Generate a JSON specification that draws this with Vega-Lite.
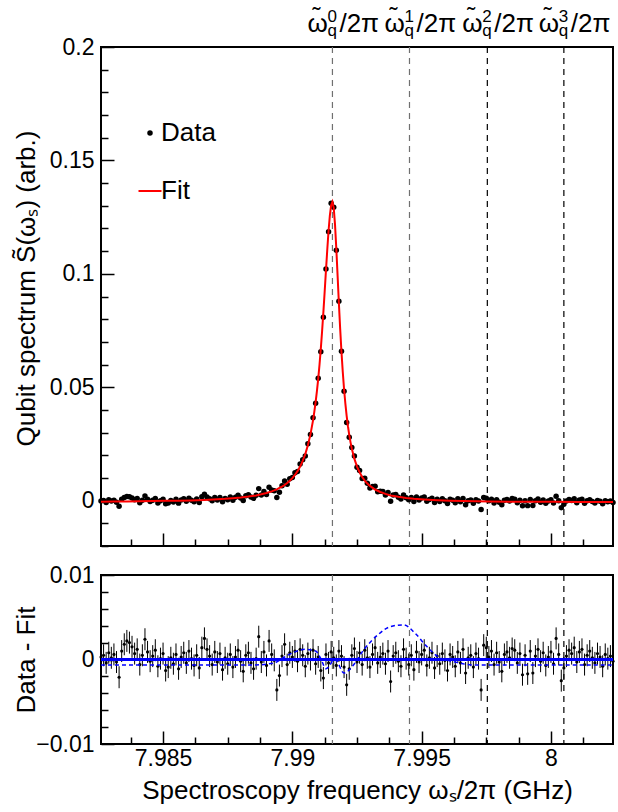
{
  "$schema": "https://vega.github.io/schema/vega-lite/v6.json",
  "background": "white",
  "padding": {"left": 12, "top": 4, "right": 5, "bottom": 5},
  "config": {
    "view": {"stroke": "black", "strokeWidth": 2},
    "font": "Liberation Sans",
    "axis": {"domain": false, "grid": false, "labelFont": "Liberation Sans", "labelFontSize": 23, "labelColor": "black", "titleFont": "Liberation Sans", "titleFontSize": 26, "titleFontWeight": "normal", "titleColor": "black", "tickColor": "black", "tickWidth": 1.5, "labelFlush": false, "labelOverlap": false, "labelBound": false, "format": "~g"},
    "legend": {"labelFont": "Liberation Sans", "labelFontSize": 26, "labelColor": "black"}
  },
  "datasets": {
    "lines": [{"f": 7.99155, "n": "0"}, {"f": 7.99453, "n": "1"}, {"f": 7.99754, "n": "2"}, {"f": 8.0005, "n": "3"}],
    "zero": [{"f": 7.9826, "r": 0}, {"f": 8.0024, "r": 0}],
    "alt": [
      {"f": 7.9826, "r": -0.00065}, {"f": 7.9885, "r": -0.00065}, {"f": 7.9893, "r": -0.0004}, {"f": 7.9897, "r": 0.0003}, {"f": 7.9901, "r": 0.0009}, {"f": 7.9905, "r": 0.0012}, {"f": 7.9909, "r": 0.001}, {"f": 7.9911, "r": 0.0001}, {"f": 7.9913, "r": -0.0011}, {"f": 7.99165, "r": 0.0}, {"f": 7.992, "r": -0.0016}, {"f": 7.99235, "r": -0.0007}, {"f": 7.99275, "r": 0.0011}, {"f": 7.9933, "r": 0.0029}, {"f": 7.9938, "r": 0.0039}, {"f": 7.9943, "r": 0.0041}, {"f": 7.99475, "r": 0.0031}, {"f": 7.99515, "r": 0.0017}, {"f": 7.99565, "r": 0.0003}, {"f": 7.9963, "r": -0.0003}, {"f": 7.997, "r": -0.00065}, {"f": 8.0024, "r": -0.00065}
    ],
    "fit": [
      {"f": 7.9826, "s": -0.0005}, {"f": 7.9831, "s": -0.0004}, {"f": 7.9836, "s": -0.0004}, {"f": 7.9841, "s": -0.0003}, {"f": 7.9846, "s": -0.0002}, {"f": 7.9851, "s": -0.0001}, {"f": 7.9856, "s": 0.0}, {"f": 7.9861, "s": 0.0001}, {"f": 7.9866, "s": 0.0003}, {"f": 7.9871, "s": 0.0006}, {"f": 7.9874, "s": 0.0008}, {"f": 7.9877, "s": 0.0011}, {"f": 7.988, "s": 0.0014}, {"f": 7.9883, "s": 0.0018}, {"f": 7.9886, "s": 0.0023}, {"f": 7.9888, "s": 0.0028}, {"f": 7.989, "s": 0.0034}, {"f": 7.9892, "s": 0.0041}, {"f": 7.9893, "s": 0.0045}, {"f": 7.9894, "s": 0.005}, {"f": 7.9895, "s": 0.0056}, {"f": 7.9896, "s": 0.0062}, {"f": 7.9897, "s": 0.0069}, {"f": 7.9898, "s": 0.0078}, {"f": 7.9899, "s": 0.0088}, {"f": 7.99, "s": 0.0099}, {"f": 7.9901, "s": 0.0113}, {"f": 7.9902, "s": 0.013}, {"f": 7.9903, "s": 0.015}, {"f": 7.9904, "s": 0.0175}, {"f": 7.9905, "s": 0.0205}, {"f": 7.9906, "s": 0.0244}, {"f": 7.9907, "s": 0.0292}, {"f": 7.9908, "s": 0.0354}, {"f": 7.99085, "s": 0.0392}, {"f": 7.9909, "s": 0.0434}, {"f": 7.99095, "s": 0.0483}, {"f": 7.991, "s": 0.0537}, {"f": 7.99105, "s": 0.0599}, {"f": 7.9911, "s": 0.0669}, {"f": 7.99115, "s": 0.0747}, {"f": 7.9912, "s": 0.0831}, {"f": 7.99125, "s": 0.0922}, {"f": 7.9913, "s": 0.1015}, {"f": 7.99135, "s": 0.1106}, {"f": 7.9914, "s": 0.119}, {"f": 7.99145, "s": 0.1257}, {"f": 7.9915, "s": 0.1302}, {"f": 7.99155, "s": 0.1317}, {"f": 7.9916, "s": 0.1291}, {"f": 7.99165, "s": 0.1217}, {"f": 7.9917, "s": 0.1111}, {"f": 7.99175, "s": 0.0991}, {"f": 7.9918, "s": 0.0869}, {"f": 7.99185, "s": 0.0756}, {"f": 7.9919, "s": 0.0655}, {"f": 7.99195, "s": 0.0567}, {"f": 7.992, "s": 0.0491}, {"f": 7.99205, "s": 0.0428}, {"f": 7.9921, "s": 0.0374}, {"f": 7.99215, "s": 0.0328}, {"f": 7.9922, "s": 0.029}, {"f": 7.99225, "s": 0.0257}, {"f": 7.9923, "s": 0.0229}, {"f": 7.9924, "s": 0.0184}, {"f": 7.9925, "s": 0.015}, {"f": 7.9926, "s": 0.0125}, {"f": 7.9927, "s": 0.0104}, {"f": 7.9928, "s": 0.0088}, {"f": 7.9929, "s": 0.0075}, {"f": 7.993, "s": 0.0065}, {"f": 7.9932, "s": 0.0049}, {"f": 7.9934, "s": 0.0038}, {"f": 7.9936, "s": 0.003}, {"f": 7.9938, "s": 0.0023}, {"f": 7.9941, "s": 0.0017}, {"f": 7.9944, "s": 0.0012}, {"f": 7.9947, "s": 0.0008}, {"f": 7.9951, "s": 0.0005}, {"f": 7.9956, "s": 0.0002}, {"f": 7.9961, "s": 0.0}, {"f": 7.9966, "s": -0.0002}, {"f": 7.9976, "s": -0.0004}, {"f": 7.9986, "s": -0.0005}, {"f": 8.0001, "s": -0.0005}, {"f": 8.0011, "s": -0.0006}, {"f": 8.0024, "s": -0.0006}
    ],
    "meas": [
      {"f": 7.9826, "s": -0.0002, "r": 0.0003, "e": 0.0013}, {"f": 7.9827, "s": 0.0001, "r": 0.0005, "e": 0.0013}, {"f": 7.9828, "s": -0.0008, "r": -0.0004, "e": 0.0013}, {"f": 7.9829, "s": 0.0004, "r": 0.0008, "e": 0.0013}, {"f": 7.983, "s": -0.0002, "r": 0.0002, "e": 0.0013}, {"f": 7.9831, "s": 0.0002, "r": 0.0006, "e": 0.0013}, {"f": 7.9832, "s": -0.0007, "r": -0.0003, "e": 0.0013}, {"f": 7.9833, "s": -0.0025, "r": -0.0021, "e": 0.0013}, {"f": 7.9834, "s": 0.0006, "r": 0.001, "e": 0.0013}, {"f": 7.9835, "s": 0.0014, "r": 0.0018, "e": 0.0013},
      {"f": 7.9836, "s": 0.0018, "r": 0.0022, "e": 0.0013}, {"f": 7.9837, "s": 0.0017, "r": 0.002, "e": 0.0013}, {"f": 7.9838, "s": 0.0012, "r": 0.0015, "e": 0.0013}, {"f": 7.9839, "s": 0.0004, "r": 0.0007, "e": 0.0013}, {"f": 7.984, "s": 0.0009, "r": 0.0012, "e": 0.0013}, {"f": 7.9841, "s": -0.0009, "r": -0.0006, "e": 0.0013}, {"f": 7.9842, "s": 0.0002, "r": 0.0005, "e": 0.0013}, {"f": 7.9843, "s": 0.0021, "r": 0.0024, "e": 0.0013}, {"f": 7.9844, "s": 0.0006, "r": 0.0009, "e": 0.0013}, {"f": 7.9845, "s": -0.0004, "r": -0.0002, "e": 0.0013},
      {"f": 7.9846, "s": 0.0002, "r": 0.0004, "e": 0.0013}, {"f": 7.9847, "s": 0.0009, "r": 0.0011, "e": 0.0013}, {"f": 7.9848, "s": -0.001, "r": -0.0008, "e": 0.0013}, {"f": 7.9849, "s": -0.0001, "r": 0.0001, "e": 0.0013}, {"f": 7.985, "s": 0.0006, "r": 0.0007, "e": 0.0013}, {"f": 7.9851, "s": -0.0014, "r": -0.0013, "e": 0.0013}, {"f": 7.9852, "s": -0.001, "r": -0.0009, "e": 0.0013}, {"f": 7.9853, "s": 0.0001, "r": 0.0002, "e": 0.0013}, {"f": 7.9854, "s": -0.0006, "r": -0.0005, "e": 0.0013}, {"f": 7.9855, "s": 0.0006, "r": 0.0006, "e": 0.0013},
      {"f": 7.9856, "s": -0.0011, "r": -0.0011, "e": 0.0013}, {"f": 7.9857, "s": 0.0003, "r": 0.0003, "e": 0.0013}, {"f": 7.9858, "s": 0.0008, "r": 0.0008, "e": 0.0013}, {"f": 7.9859, "s": -0.0003, "r": -0.0004, "e": 0.0013}, {"f": 7.986, "s": 0.0011, "r": 0.001, "e": 0.0013}, {"f": 7.9861, "s": 0.0002, "r": 0.0001, "e": 0.0013}, {"f": 7.9862, "s": -0.0005, "r": -0.0007, "e": 0.0013}, {"f": 7.9863, "s": 0.0007, "r": 0.0005, "e": 0.0013}, {"f": 7.9864, "s": -0.0008, "r": -0.001, "e": 0.0013}, {"f": 7.9865, "s": 0.0017, "r": 0.0014, "e": 0.0013},
      {"f": 7.9866, "s": 0.0028, "r": 0.0025, "e": 0.0013}, {"f": 7.9867, "s": 0.0016, "r": 0.0012, "e": 0.0013}, {"f": 7.9868, "s": 0.0008, "r": 0.0004, "e": 0.0013}, {"f": 7.9869, "s": -0.0001, "r": -0.0006, "e": 0.0013}, {"f": 7.987, "s": 0.0014, "r": 0.0009, "e": 0.0013}, {"f": 7.9871, "s": 0.0003, "r": -0.0003, "e": 0.0013}, {"f": 7.9872, "s": 0.0014, "r": 0.0007, "e": 0.0013}, {"f": 7.9873, "s": -0.0005, "r": -0.0012, "e": 0.0013}, {"f": 7.9874, "s": 0.001, "r": 0.0002, "e": 0.0013}, {"f": 7.9875, "s": 0.0004, "r": -0.0005, "e": 0.0013},
      {"f": 7.9876, "s": 0.0016, "r": 0.0006, "e": 0.0013}, {"f": 7.9877, "s": 0.0002, "r": -0.0009, "e": 0.0013}, {"f": 7.9878, "s": 0.0015, "r": 0.0003, "e": 0.0013}, {"f": 7.9879, "s": 0.0024, "r": 0.0011, "e": 0.0013}, {"f": 7.988, "s": 0.0012, "r": -0.0002, "e": 0.0013}, {"f": 7.9881, "s": 0.0001, "r": -0.0014, "e": 0.0013}, {"f": 7.9882, "s": 0.0022, "r": 0.0005, "e": 0.0013}, {"f": 7.9883, "s": 0.0026, "r": 0.0008, "e": 0.0013}, {"f": 7.9884, "s": 0.0016, "r": -0.0004, "e": 0.0013}, {"f": 7.9885, "s": 0.001, "r": -0.0011, "e": 0.0013},
      {"f": 7.9886, "s": 0.0024, "r": 0.0001, "e": 0.0013}, {"f": 7.9887, "s": 0.0053, "r": 0.0027, "e": 0.0013}, {"f": 7.9888, "s": 0.0025, "r": -0.0003, "e": 0.0013}, {"f": 7.9889, "s": 0.004, "r": 0.0009, "e": 0.0013}, {"f": 7.989, "s": 0.0027, "r": -0.0007, "e": 0.0013}, {"f": 7.9891, "s": 0.0059, "r": 0.0022, "e": 0.0013}, {"f": 7.9892, "s": 0.0047, "r": 0.0006, "e": 0.0013}, {"f": 7.9893, "s": 0.0044, "r": -0.0001, "e": 0.0013}, {"f": 7.9894, "s": 0.0014, "r": -0.0036, "e": 0.0013}, {"f": 7.9895, "s": 0.0037, "r": -0.0019, "e": 0.0013},
      {"f": 7.9896, "s": 0.0066, "r": 0.0004, "e": 0.0013}, {"f": 7.9897, "s": 0.0087, "r": 0.0018, "e": 0.0013}, {"f": 7.9898, "s": 0.0072, "r": -0.0006, "e": 0.0013}, {"f": 7.9899, "s": 0.0096, "r": 0.0008, "e": 0.0013}, {"f": 7.99, "s": 0.0102, "r": 0.0003, "e": 0.0013}, {"f": 7.9901, "s": 0.0123, "r": 0.001, "e": 0.0013}, {"f": 7.9902, "s": 0.0128, "r": -0.0002, "e": 0.0013}, {"f": 7.9903, "s": 0.0162, "r": 0.0012, "e": 0.0013}, {"f": 7.9904, "s": 0.018, "r": 0.0005, "e": 0.0013}, {"f": 7.9905, "s": 0.0197, "r": -0.0008, "e": 0.0013},
      {"f": 7.9906, "s": 0.0251, "r": 0.0007, "e": 0.0013}, {"f": 7.9907, "s": 0.0292, "r": 0.0, "e": 0.0013}, {"f": 7.9908, "s": 0.0365, "r": 0.0011, "e": 0.0013}, {"f": 7.9909, "s": 0.0429, "r": -0.0005, "e": 0.0013}, {"f": 7.991, "s": 0.054, "r": 0.0003, "e": 0.0013}, {"f": 7.9911, "s": 0.0656, "r": -0.0013, "e": 0.0013}, {"f": 7.9912, "s": 0.0809, "r": -0.0022, "e": 0.0013}, {"f": 7.9913, "s": 0.1021, "r": 0.0006, "e": 0.0013}, {"f": 7.9914, "s": 0.1186, "r": -0.0004, "e": 0.0013}, {"f": 7.9915, "s": 0.1311, "r": 0.0009, "e": 0.0013},
      {"f": 7.9916, "s": 0.1293, "r": 0.0002, "e": 0.0013}, {"f": 7.9917, "s": 0.1104, "r": -0.0007, "e": 0.0013}, {"f": 7.9918, "s": 0.0879, "r": 0.001, "e": 0.0013}, {"f": 7.9919, "s": 0.0659, "r": 0.0004, "e": 0.0013}, {"f": 7.992, "s": 0.0482, "r": -0.0009, "e": 0.0013}, {"f": 7.9921, "s": 0.0344, "r": -0.003, "e": 0.0013}, {"f": 7.9922, "s": 0.0279, "r": -0.0011, "e": 0.0013}, {"f": 7.9923, "s": 0.0234, "r": 0.0005, "e": 0.0013}, {"f": 7.9924, "s": 0.0197, "r": 0.0013, "e": 0.0013}, {"f": 7.9925, "s": 0.0147, "r": -0.0003, "e": 0.0013},
      {"f": 7.9926, "s": 0.0133, "r": 0.0008, "e": 0.0013}, {"f": 7.9927, "s": 0.0098, "r": -0.0006, "e": 0.0013}, {"f": 7.9928, "s": 0.0099, "r": 0.0011, "e": 0.0013}, {"f": 7.9929, "s": 0.0077, "r": 0.0002, "e": 0.0013}, {"f": 7.993, "s": 0.0056, "r": -0.0009, "e": 0.0013}, {"f": 7.9931, "s": 0.0062, "r": 0.0006, "e": 0.0013}, {"f": 7.9932, "s": 0.0063, "r": 0.0014, "e": 0.0013}, {"f": 7.9933, "s": 0.0039, "r": -0.0004, "e": 0.0013}, {"f": 7.9934, "s": 0.0041, "r": 0.0003, "e": 0.0013}, {"f": 7.9935, "s": 0.004, "r": 0.0007, "e": 0.0013},
      {"f": 7.9936, "s": 0.0025, "r": -0.0005, "e": 0.0013}, {"f": 7.9937, "s": 0.0036, "r": 0.001, "e": 0.0013}, {"f": 7.9938, "s": -0.0003, "r": -0.0026, "e": 0.0013}, {"f": 7.9939, "s": 0.0025, "r": 0.0004, "e": 0.0013}, {"f": 7.994, "s": 0.0027, "r": 0.0008, "e": 0.0013}, {"f": 7.9941, "s": 0.0015, "r": -0.0002, "e": 0.0013}, {"f": 7.9942, "s": 0.0007, "r": -0.0008, "e": 0.0013}, {"f": 7.9943, "s": 0.0025, "r": 0.0012, "e": 0.0013}, {"f": 7.9944, "s": 0.0013, "r": 0.0001, "e": 0.0013}, {"f": 7.9945, "s": 0.0004, "r": -0.0006, "e": 0.0013},
      {"f": 7.9946, "s": 0.0014, "r": 0.0005, "e": 0.0013}, {"f": 7.9947, "s": -0.0004, "r": -0.0012, "e": 0.0013}, {"f": 7.9948, "s": 0.0016, "r": 0.0009, "e": 0.0013}, {"f": 7.9949, "s": 0.0003, "r": -0.0003, "e": 0.0013}, {"f": 7.995, "s": 0.0012, "r": 0.0006, "e": 0.0013}, {"f": 7.9951, "s": 0.0016, "r": 0.0011, "e": 0.0013}, {"f": 7.9952, "s": -0.0003, "r": -0.0007, "e": 0.0013}, {"f": 7.9953, "s": 0.0005, "r": 0.0002, "e": 0.0013}, {"f": 7.9954, "s": 0.0011, "r": 0.0008, "e": 0.0013}, {"f": 7.9955, "s": -0.0008, "r": -0.001, "e": 0.0013},
      {"f": 7.9956, "s": 0.0006, "r": 0.0004, "e": 0.0013}, {"f": 7.9957, "s": -0.0004, "r": -0.0005, "e": 0.0013}, {"f": 7.9958, "s": 0.0008, "r": 0.0007, "e": 0.0013}, {"f": 7.9959, "s": 0.0, "r": -0.0001, "e": 0.0013}, {"f": 7.996, "s": -0.0013, "r": -0.0013, "e": 0.0013}, {"f": 7.9961, "s": 0.0006, "r": 0.0006, "e": 0.0013}, {"f": 7.9962, "s": 0.0002, "r": 0.0003, "e": 0.0013}, {"f": 7.9963, "s": -0.0009, "r": -0.0008, "e": 0.0013}, {"f": 7.9964, "s": 0.0008, "r": 0.0009, "e": 0.0013}, {"f": 7.9965, "s": -0.0005, "r": -0.0004, "e": 0.0013},
      {"f": 7.9966, "s": 0.001, "r": 0.0012, "e": 0.0013}, {"f": 7.9967, "s": -0.0018, "r": -0.0016, "e": 0.0013}, {"f": 7.9968, "s": 0.0, "r": 0.0002, "e": 0.0013}, {"f": 7.9969, "s": 0.0003, "r": 0.0005, "e": 0.0013}, {"f": 7.997, "s": -0.0012, "r": -0.0009, "e": 0.0013}, {"f": 7.9971, "s": 0.0004, "r": 0.0007, "e": 0.0013}, {"f": 7.9972, "s": -0.0002, "r": 0.0001, "e": 0.0013}, {"f": 7.9973, "s": -0.0039, "r": -0.0036, "e": 0.0013}, {"f": 7.9974, "s": 0.0014, "r": 0.0017, "e": 0.0013}, {"f": 7.9975, "s": 0.0011, "r": 0.0014, "e": 0.0013},
      {"f": 7.9976, "s": -0.0001, "r": 0.0003, "e": 0.0013}, {"f": 7.9977, "s": 0.0006, "r": 0.001, "e": 0.0013}, {"f": 7.9978, "s": -0.001, "r": -0.0006, "e": 0.0013}, {"f": 7.9979, "s": 0.0004, "r": 0.0008, "e": 0.0013}, {"f": 7.998, "s": -0.0007, "r": -0.0003, "e": 0.0013}, {"f": 7.9981, "s": -0.0018, "r": -0.0014, "e": 0.0013}, {"f": 7.9982, "s": 0.0002, "r": 0.0006, "e": 0.0013}, {"f": 7.9983, "s": 0.0005, "r": 0.0009, "e": 0.0013}, {"f": 7.9984, "s": -0.0002, "r": 0.0002, "e": 0.0013}, {"f": 7.9985, "s": 0.0009, "r": 0.0013, "e": 0.0013},
      {"f": 7.9986, "s": 0.0006, "r": 0.0011, "e": 0.0013}, {"f": 7.9987, "s": -0.0009, "r": -0.0004, "e": 0.0013}, {"f": 7.9988, "s": 0.0002, "r": 0.0007, "e": 0.0013}, {"f": 7.9989, "s": -0.0023, "r": -0.0018, "e": 0.0013}, {"f": 7.999, "s": 0.0, "r": 0.0005, "e": 0.0013}, {"f": 7.9991, "s": -0.0022, "r": -0.0017, "e": 0.0013}, {"f": 7.9992, "s": 0.0005, "r": 0.001, "e": 0.0013}, {"f": 7.9993, "s": -0.0021, "r": -0.0016, "e": 0.0013}, {"f": 7.9994, "s": -0.0001, "r": 0.0004, "e": 0.0013}, {"f": 7.9995, "s": 0.0007, "r": 0.0012, "e": 0.0013},
      {"f": 7.9996, "s": -0.0007, "r": -0.0002, "e": 0.0013}, {"f": 7.9997, "s": 0.0003, "r": 0.0008, "e": 0.0013}, {"f": 7.9998, "s": -0.0012, "r": -0.0007, "e": 0.0013}, {"f": 7.9999, "s": -0.0002, "r": 0.0003, "e": 0.0013}, {"f": 8.0, "s": 0.0004, "r": 0.0009, "e": 0.0013}, {"f": 8.0001, "s": -0.001, "r": -0.0005, "e": 0.0013}, {"f": 8.0002, "s": 0.0019, "r": 0.0025, "e": 0.0013}, {"f": 8.0003, "s": 0.0, "r": 0.0006, "e": 0.0013}, {"f": 8.0004, "s": -0.0031, "r": -0.0025, "e": 0.0013}, {"f": 8.0005, "s": -0.0016, "r": -0.001, "e": 0.0013},
      {"f": 8.0006, "s": -0.0002, "r": 0.0004, "e": 0.0013}, {"f": 8.0007, "s": 0.0005, "r": 0.0011, "e": 0.0013}, {"f": 8.0008, "s": 0.0001, "r": 0.0007, "e": 0.0013}, {"f": 8.0009, "s": 0.0008, "r": 0.0014, "e": 0.0013}, {"f": 8.001, "s": -0.0009, "r": -0.0003, "e": 0.0013}, {"f": 8.0011, "s": 0.0003, "r": 0.0009, "e": 0.0013}, {"f": 8.0012, "s": 0.0006, "r": 0.0012, "e": 0.0013}, {"f": 8.0013, "s": -0.0012, "r": -0.0006, "e": 0.0013}, {"f": 8.0014, "s": -0.0001, "r": 0.0005, "e": 0.0013}, {"f": 8.0015, "s": 0.0004, "r": 0.001, "e": 0.0013},
      {"f": 8.0016, "s": -0.0004, "r": 0.0002, "e": 0.0013}, {"f": 8.0017, "s": -0.001, "r": -0.0004, "e": 0.0013}, {"f": 8.0018, "s": 0.0001, "r": 0.0007, "e": 0.0013}, {"f": 8.0019, "s": -0.0003, "r": 0.0003, "e": 0.0013}, {"f": 8.002, "s": -0.0014, "r": -0.0008, "e": 0.0013}, {"f": 8.0021, "s": 0.0, "r": 0.0006, "e": 0.0013}, {"f": 8.0022, "s": -0.0005, "r": 0.0001, "e": 0.0013}, {"f": 8.0023, "s": -0.0002, "r": 0.0004, "e": 0.0013}, {"f": 8.0024, "s": -0.0008, "r": -0.0002, "e": 0.0013}
    ]
  },
  "spacing": 15,
  "vconcat": [
    {
      "width": 512,
      "height": 499,
      "encoding": {
        "x": {"field": "f", "type": "quantitative", "scale": {"domain": [7.9826, 8.0024], "nice": false, "zero": false},
          "axis": {"title": null, "labels": false, "labelOverlap": false, "values": [7.98375, 7.985, 7.98625, 7.9875, 7.98875, 7.99, 7.99125, 7.9925, 7.99375, 7.995, 7.99625, 7.9975, 7.99875, 8, 8.00125],
            "tickSize": {"condition": {"test": "abs(datum.value*200-round(datum.value*200))<1e-6", "value": -13}, "value": -7}}}
      },
      "layer": [
        {"data": {"name": "lines"}, "mark": {"type": "rule", "strokeDash": [6, 5], "strokeWidth": 1.2},
          "encoding": {"color": {"condition": {"test": "datum.n == '0' || datum.n == '1'", "value": "#707070"}, "value": "black"}}},
        {"data": {"name": "meas"}, "mark": {"type": "point", "filled": true, "opacity": 1},
          "encoding": {
            "y": {"field": "s", "type": "quantitative", "scale": {"domain": [-0.02, 0.2], "nice": false, "zero": false},
              "axis": {"title": "Qubit spectrum S\u0303(\u03c9\u209b) (arb.)", "labelOverlap": false, "values": [-0.02, -0.01, 0, 0.01, 0.02, 0.03, 0.04, 0.05, 0.06, 0.07, 0.08, 0.09, 0.1, 0.11, 0.12, 0.13, 0.14, 0.15, 0.16, 0.17, 0.18, 0.19, 0.2],
                "labelExpr": "abs(datum.value*20-round(datum.value*20))<1e-6 ? datum.label : ''",
                "labelFontSize": {"condition": {"test": "abs(datum.value*20-round(datum.value*20))<1e-6", "value": 23}, "value": 0},
                "tickSize": {"condition": {"test": "abs(datum.value*20-round(datum.value*20))<1e-6", "value": -13}, "value": -7},
                "labelPadding": 20, "titleX": -62, "titleY": 241, "titleAlign": "center", "titleBaseline": "bottom"}},
            "fill": {"datum": "Data", "scale": {"domain": ["Data", "Fit"], "range": ["black", "red"]}, "legend": {"title": null, "orient": "none", "legendX": 36, "legendY": 73, "rowPadding": 32, "labelOffset": -2, "padding": 0, "symbolStrokeWidth": 2}},
            "stroke": {"datum": "Data", "scale": {"domain": ["Data", "Fit"], "range": ["transparent", "red"]}, "legend": {"title": null, "orient": "none", "legendX": 36, "legendY": 73, "rowPadding": 32, "labelOffset": -2, "padding": 0, "symbolStrokeWidth": 2}},
            "shape": {"datum": "Data", "scale": {"domain": ["Data", "Fit"], "range": ["circle", "stroke"]}, "legend": {"title": null, "orient": "none", "legendX": 36, "legendY": 73, "rowPadding": 32, "labelOffset": -2, "padding": 0, "symbolStrokeWidth": 2}},
            "size": {"datum": "Data", "scale": {"domain": ["Data", "Fit"], "range": [30, 529]}, "legend": {"title": null, "orient": "none", "legendX": 36, "legendY": 73, "rowPadding": 32, "labelOffset": -2, "padding": 0, "symbolStrokeWidth": 2}}
          }},
        {"data": {"name": "fit"}, "mark": {"type": "line", "strokeWidth": 2},
          "encoding": {
            "y": {"field": "s", "type": "quantitative", "scale": {"domain": [-0.02, 0.2], "nice": false, "zero": false},
              "axis": {"title": "Qubit spectrum S\u0303(\u03c9\u209b) (arb.)", "labelOverlap": false, "values": [-0.02, -0.01, 0, 0.01, 0.02, 0.03, 0.04, 0.05, 0.06, 0.07, 0.08, 0.09, 0.1, 0.11, 0.12, 0.13, 0.14, 0.15, 0.16, 0.17, 0.18, 0.19, 0.2],
                "labelExpr": "abs(datum.value*20-round(datum.value*20))<1e-6 ? datum.label : ''",
                "labelFontSize": {"condition": {"test": "abs(datum.value*20-round(datum.value*20))<1e-6", "value": 23}, "value": 0},
                "tickSize": {"condition": {"test": "abs(datum.value*20-round(datum.value*20))<1e-6", "value": -13}, "value": -7},
                "labelPadding": 20, "titleX": -62, "titleY": 241, "titleAlign": "center", "titleBaseline": "bottom"}},
            "stroke": {"datum": "Fit", "scale": {"domain": ["Data", "Fit"], "range": ["transparent", "red"]}, "legend": {"title": null, "orient": "none", "legendX": 36, "legendY": 73, "rowPadding": 32, "labelOffset": -2, "padding": 0, "symbolStrokeWidth": 2}}
          }},
        {"data": {"name": "lines"}, "mark": {"type": "text", "text": "\u03c9", "align": "left", "baseline": "alphabetic", "fontSize": 26, "dx": -25, "dy": -15, "color": "black"},
          "encoding": {"y": {"datum": 0.2, "type": "quantitative", "scale": {"domain": [-0.02, 0.2], "nice": false, "zero": false},
              "axis": {"title": "Qubit spectrum S\u0303(\u03c9\u209b) (arb.)", "labelOverlap": false, "values": [-0.02, -0.01, 0, 0.01, 0.02, 0.03, 0.04, 0.05, 0.06, 0.07, 0.08, 0.09, 0.1, 0.11, 0.12, 0.13, 0.14, 0.15, 0.16, 0.17, 0.18, 0.19, 0.2],
                "labelExpr": "abs(datum.value*20-round(datum.value*20))<1e-6 ? datum.label : ''",
                "labelFontSize": {"condition": {"test": "abs(datum.value*20-round(datum.value*20))<1e-6", "value": 23}, "value": 0},
                "tickSize": {"condition": {"test": "abs(datum.value*20-round(datum.value*20))<1e-6", "value": -13}, "value": -7},
                "labelPadding": 20, "titleX": -62, "titleY": 241, "titleAlign": "center", "titleBaseline": "bottom"}}}},
        {"data": {"name": "lines"}, "mark": {"type": "text", "text": "\u02dc", "align": "center", "baseline": "alphabetic", "fontSize": 24, "dx": -16, "dy": -23, "color": "black"},
          "encoding": {"y": {"datum": 0.2, "type": "quantitative", "scale": {"domain": [-0.02, 0.2], "nice": false, "zero": false},
              "axis": {"title": "Qubit spectrum S\u0303(\u03c9\u209b) (arb.)", "labelOverlap": false, "values": [-0.02, -0.01, 0, 0.01, 0.02, 0.03, 0.04, 0.05, 0.06, 0.07, 0.08, 0.09, 0.1, 0.11, 0.12, 0.13, 0.14, 0.15, 0.16, 0.17, 0.18, 0.19, 0.2],
                "labelExpr": "abs(datum.value*20-round(datum.value*20))<1e-6 ? datum.label : ''",
                "labelFontSize": {"condition": {"test": "abs(datum.value*20-round(datum.value*20))<1e-6", "value": 23}, "value": 0},
                "tickSize": {"condition": {"test": "abs(datum.value*20-round(datum.value*20))<1e-6", "value": -13}, "value": -7},
                "labelPadding": 20, "titleX": -62, "titleY": 241, "titleAlign": "center", "titleBaseline": "bottom"}}}},
        {"data": {"name": "lines"}, "mark": {"type": "text", "align": "left", "baseline": "alphabetic", "fontSize": 17, "dx": -5, "dy": -25, "color": "black"},
          "encoding": {"text": {"field": "n"}, "y": {"datum": 0.2, "type": "quantitative", "scale": {"domain": [-0.02, 0.2], "nice": false, "zero": false},
              "axis": {"title": "Qubit spectrum S\u0303(\u03c9\u209b) (arb.)", "labelOverlap": false, "values": [-0.02, -0.01, 0, 0.01, 0.02, 0.03, 0.04, 0.05, 0.06, 0.07, 0.08, 0.09, 0.1, 0.11, 0.12, 0.13, 0.14, 0.15, 0.16, 0.17, 0.18, 0.19, 0.2],
                "labelExpr": "abs(datum.value*20-round(datum.value*20))<1e-6 ? datum.label : ''",
                "labelFontSize": {"condition": {"test": "abs(datum.value*20-round(datum.value*20))<1e-6", "value": 23}, "value": 0},
                "tickSize": {"condition": {"test": "abs(datum.value*20-round(datum.value*20))<1e-6", "value": -13}, "value": -7},
                "labelPadding": 20, "titleX": -62, "titleY": 241, "titleAlign": "center", "titleBaseline": "bottom"}}}},
        {"data": {"name": "lines"}, "mark": {"type": "text", "text": "q", "align": "left", "baseline": "alphabetic", "fontSize": 17, "dx": -5, "dy": -11, "color": "black"},
          "encoding": {"y": {"datum": 0.2, "type": "quantitative", "scale": {"domain": [-0.02, 0.2], "nice": false, "zero": false},
              "axis": {"title": "Qubit spectrum S\u0303(\u03c9\u209b) (arb.)", "labelOverlap": false, "values": [-0.02, -0.01, 0, 0.01, 0.02, 0.03, 0.04, 0.05, 0.06, 0.07, 0.08, 0.09, 0.1, 0.11, 0.12, 0.13, 0.14, 0.15, 0.16, 0.17, 0.18, 0.19, 0.2],
                "labelExpr": "abs(datum.value*20-round(datum.value*20))<1e-6 ? datum.label : ''",
                "labelFontSize": {"condition": {"test": "abs(datum.value*20-round(datum.value*20))<1e-6", "value": 23}, "value": 0},
                "tickSize": {"condition": {"test": "abs(datum.value*20-round(datum.value*20))<1e-6", "value": -13}, "value": -7},
                "labelPadding": 20, "titleX": -62, "titleY": 241, "titleAlign": "center", "titleBaseline": "bottom"}}}},
        {"data": {"name": "lines"}, "mark": {"type": "text", "text": "/2\u03c0", "align": "left", "baseline": "alphabetic", "fontSize": 26, "dx": 7, "dy": -15, "color": "black"},
          "encoding": {"y": {"datum": 0.2, "type": "quantitative", "scale": {"domain": [-0.02, 0.2], "nice": false, "zero": false},
              "axis": {"title": "Qubit spectrum S\u0303(\u03c9\u209b) (arb.)", "labelOverlap": false, "values": [-0.02, -0.01, 0, 0.01, 0.02, 0.03, 0.04, 0.05, 0.06, 0.07, 0.08, 0.09, 0.1, 0.11, 0.12, 0.13, 0.14, 0.15, 0.16, 0.17, 0.18, 0.19, 0.2],
                "labelExpr": "abs(datum.value*20-round(datum.value*20))<1e-6 ? datum.label : ''",
                "labelFontSize": {"condition": {"test": "abs(datum.value*20-round(datum.value*20))<1e-6", "value": 23}, "value": 0},
                "tickSize": {"condition": {"test": "abs(datum.value*20-round(datum.value*20))<1e-6", "value": -13}, "value": -7},
                "labelPadding": 20, "titleX": -62, "titleY": 241, "titleAlign": "center", "titleBaseline": "bottom"}}}}
      ]
    },
    {
      "width": 512,
      "height": 169,
      "encoding": {
        "x": {"field": "f", "type": "quantitative", "scale": {"domain": [7.9826, 8.0024], "nice": false, "zero": false},
          "axis": {"title": "Spectroscopy frequency \u03c9\u209b/2\u03c0 (GHz)", "labelOverlap": false, "values": [7.98375, 7.985, 7.98625, 7.9875, 7.98875, 7.99, 7.99125, 7.9925, 7.99375, 7.995, 7.99625, 7.9975, 7.99875, 8, 8.00125],
            "labelExpr": "abs(datum.value*200-round(datum.value*200))<1e-6 ? datum.label : ''",
            "tickSize": {"condition": {"test": "abs(datum.value*200-round(datum.value*200))<1e-6", "value": -13}, "value": -7},
            "labelPadding": 16, "titlePadding": 1}}
      },
      "layer": [
        {"data": {"name": "lines"}, "mark": {"type": "rule", "strokeDash": [6, 5], "strokeWidth": 1.2},
          "encoding": {"color": {"condition": {"test": "datum.n == '0' || datum.n == '1'", "value": "#707070"}, "value": "black"}}},
        {"data": {"name": "meas"}, "mark": {"type": "errorbar", "color": "black", "thickness": 1},
          "encoding": {
            "y": {"field": "r", "type": "quantitative", "scale": {"domain": [-0.01, 0.01], "nice": false, "zero": false},
              "axis": {"title": "Data - Fit", "labelOverlap": false, "values": [-0.01, -0.008, -0.006, -0.004, -0.002, 0, 0.002, 0.004, 0.006, 0.008, 0.01],
                "labelExpr": "abs(datum.value*100-round(datum.value*100))<1e-6 ? datum.label : ''",
                "labelFontSize": {"condition": {"test": "abs(datum.value*100-round(datum.value*100))<1e-6", "value": 23}, "value": 0},
                "tickSize": {"condition": {"test": "abs(datum.value*100-round(datum.value*100))<1e-6", "value": -13}, "value": -7},
                "labelPadding": 20, "titleX": -62, "titleAlign": "center", "titleBaseline": "bottom"}},
            "yError": {"field": "e"}
          }},
        {"data": {"name": "meas"}, "mark": {"type": "point", "filled": true, "opacity": 1, "color": "black", "size": 10},
          "encoding": {"y": {"field": "r", "type": "quantitative", "scale": {"domain": [-0.01, 0.01], "nice": false, "zero": false},
              "axis": {"title": "Data - Fit", "labelOverlap": false, "values": [-0.01, -0.008, -0.006, -0.004, -0.002, 0, 0.002, 0.004, 0.006, 0.008, 0.01],
                "labelExpr": "abs(datum.value*100-round(datum.value*100))<1e-6 ? datum.label : ''",
                "labelFontSize": {"condition": {"test": "abs(datum.value*100-round(datum.value*100))<1e-6", "value": 23}, "value": 0},
                "tickSize": {"condition": {"test": "abs(datum.value*100-round(datum.value*100))<1e-6", "value": -13}, "value": -7},
                "labelPadding": 20, "titleX": -62, "titleAlign": "center", "titleBaseline": "bottom"}}}},
        {"data": {"name": "zero"}, "mark": {"type": "line", "color": "blue", "strokeWidth": 3},
          "encoding": {"y": {"field": "r", "type": "quantitative", "scale": {"domain": [-0.01, 0.01], "nice": false, "zero": false},
              "axis": {"title": "Data - Fit", "labelOverlap": false, "values": [-0.01, -0.008, -0.006, -0.004, -0.002, 0, 0.002, 0.004, 0.006, 0.008, 0.01],
                "labelExpr": "abs(datum.value*100-round(datum.value*100))<1e-6 ? datum.label : ''",
                "labelFontSize": {"condition": {"test": "abs(datum.value*100-round(datum.value*100))<1e-6", "value": 23}, "value": 0},
                "tickSize": {"condition": {"test": "abs(datum.value*100-round(datum.value*100))<1e-6", "value": -13}, "value": -7},
                "labelPadding": 20, "titleX": -62, "titleAlign": "center", "titleBaseline": "bottom"}}}},
        {"data": {"name": "alt"}, "mark": {"type": "line", "color": "blue", "strokeWidth": 1.5, "strokeDash": [4, 3], "interpolate": "monotone"},
          "encoding": {"y": {"field": "r", "type": "quantitative", "scale": {"domain": [-0.01, 0.01], "nice": false, "zero": false},
              "axis": {"title": "Data - Fit", "labelOverlap": false, "values": [-0.01, -0.008, -0.006, -0.004, -0.002, 0, 0.002, 0.004, 0.006, 0.008, 0.01],
                "labelExpr": "abs(datum.value*100-round(datum.value*100))<1e-6 ? datum.label : ''",
                "labelFontSize": {"condition": {"test": "abs(datum.value*100-round(datum.value*100))<1e-6", "value": 23}, "value": 0},
                "tickSize": {"condition": {"test": "abs(datum.value*100-round(datum.value*100))<1e-6", "value": -13}, "value": -7},
                "labelPadding": 20, "titleX": -62, "titleAlign": "center", "titleBaseline": "bottom"}}}}
      ]
    }
  ]
}
